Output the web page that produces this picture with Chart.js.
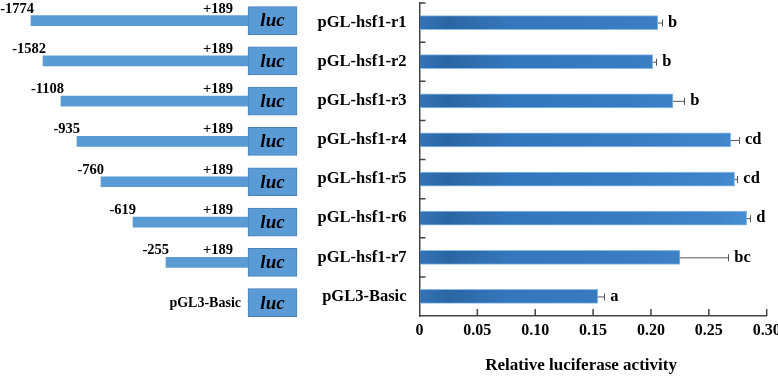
<!DOCTYPE html>
<html>
<head>
<meta charset="utf-8">
<script src="https://cdn.jsdelivr.net/npm/chart.js@4/dist/chart.umd.min.js"></script>
<style>
  html, body { margin: 0; padding: 0; background: #fff; }
  #wrap { position: relative; width: 778px; height: 376px; overflow: hidden; }
  #left { position: absolute; left: 0; top: 0; }
  #right { position: absolute; left: 300px; top: 0; }
</style>
</head>
<body>
<div id="wrap">
  <canvas id="left" width="300" height="376"></canvas>
  <canvas id="right" width="478" height="376"></canvas>
</div>
<script>
// ---------- data ----------
const categories = ['pGL-hsf1-r1','pGL-hsf1-r2','pGL-hsf1-r3','pGL-hsf1-r4','pGL-hsf1-r5','pGL-hsf1-r6','pGL-hsf1-r7','pGL3-Basic'];
const activity   = [0.206, 0.2015, 0.219, 0.269, 0.2723, 0.2827, 0.2251, 0.154];
const activityErr= [0.0036, 0.003, 0.0098, 0.007, 0.0023, 0.003, 0.0417, 0.0057];
const sigLetters = ['b','b','b','cd','cd','d','bc','a'];
const xTicks     = [0, 0.05, 0.10, 0.15, 0.20, 0.25, 0.30];

// promoter constructs (schematic, not drawn to scale)
const promoterStartLabel = ['-1774','-1582','-1108','-935','-760','-619','-255', null];
const promoterEndLabel   = '+189';
const schematicStart     = [-217, -205, -187, -171, -147, -115, -82, null]; // drawn 5' end (schematic units, luc starts at 0)
const lucSpan            = [0, 49];
const reporterName       = 'luc';
const xTitle             = 'Relative luciferase activity';

const SERIF = '"Liberation Serif", "Times New Roman", serif';

// ---------- left schematic ----------
const schemPlugin = {
  id: 'schemText',
  afterDatasetsDraw(chart) {
    const {ctx, scales: {x, y}} = chart;
    ctx.save();
    ctx.fillStyle = '#000';
    categories.forEach((c, i) => {
      const yc = y.getPixelForValue(i);
      const boxL = x.getPixelForValue(lucSpan[0]);
      const boxR = x.getPixelForValue(lucSpan[1]);
      ctx.font = 'italic bold 19px ' + SERIF;
      ctx.textAlign = 'center';
      ctx.textBaseline = 'middle';
      ctx.fillText(reporterName, (boxL + boxR) / 2, yc + 1);
      if (schematicStart[i] !== null) {
        const sx = x.getPixelForValue(schematicStart[i]);
        ctx.font = 'bold 14.5px ' + SERIF;
        ctx.textBaseline = 'alphabetic';
        ctx.textAlign = 'right';
        ctx.fillText(promoterStartLabel[i], sx + 3, yc - 8);
        ctx.fillText(promoterEndLabel, boxL - 15, yc - 8);
      } else {
        ctx.font = 'bold 14px ' + SERIF;
        ctx.textAlign = 'right';
        ctx.textBaseline = 'middle';
        ctx.fillText(c, boxL - 7, yc + 1);
      }
    });
    ctx.restore();
  }
};

new Chart(document.getElementById('left'), {
  type: 'bar',
  data: {
    labels: categories,
    datasets: [
      {
        label: 'luc',
        data: categories.map(() => lucSpan),
        backgroundColor: '#5b9bd5',
        borderColor: '#4a80b8',
        borderWidth: 1,
        borderSkipped: false,
        barThickness: 28,
        grouped: false,
        order: 0
      },
      {
        label: 'promoter',
        data: schematicStart.map(s => s === null ? null : [s, lucSpan[0]]),
        backgroundColor: '#5b9bd5',
        borderWidth: 0,
        barThickness: 10,
        grouped: false,
        order: 1
      }
    ]
  },
  options: {
    indexAxis: 'y',
    responsive: false,
    animation: false,
    devicePixelRatio: 1,
    layout: { padding: { top: 0.4, bottom: 53.2, left: 0, right: 0 } },
    scales: {
      x: { type: 'linear', min: -248, max: 52, display: false },
      y: { type: 'category', display: false }
    },
    plugins: { legend: { display: false }, tooltip: { enabled: false } }
  },
  plugins: [schemPlugin]
});

// ---------- right bar chart ----------
const errPlugin = {
  id: 'errLetters',
  afterDatasetsDraw(chart) {
    const {ctx, scales: {x, y}} = chart;
    const meta = chart.getDatasetMeta(0);
    ctx.save();
    activity.forEach((v, i) => {
      const yc = meta.data[i].y;
      const x0 = x.getPixelForValue(v);
      const x1 = x.getPixelForValue(v + activityErr[i]);
      ctx.strokeStyle = '#555';
      ctx.lineWidth = 1;
      ctx.beginPath();
      ctx.moveTo(x0, yc + 0.5); ctx.lineTo(x1, yc + 0.5);
      ctx.moveTo(Math.round(x1) + 0.5, yc - 3); ctx.lineTo(Math.round(x1) + 0.5, yc + 4);
      ctx.stroke();
      ctx.fillStyle = '#000';
      ctx.font = 'bold 16.5px ' + SERIF;
      ctx.textAlign = 'left';
      ctx.textBaseline = 'middle';
      ctx.fillText(sigLetters[i], x1 + 6, yc);
    });
    ctx.restore();
  },
  afterDraw(chart) {
    const {ctx, scales: {x, y}, chartArea} = chart;
    ctx.save();
    ctx.strokeStyle = '#444';
    ctx.lineWidth = 1.5;
    ctx.beginPath();
    x.ticks.forEach(t => {
      if (t.value > 0) {
        const px = x.getPixelForValue(t.value);
        ctx.moveTo(px, chartArea.bottom); ctx.lineTo(px, chartArea.bottom - 7);
      }
    });
    const step = y.getPixelForValue(1) - y.getPixelForValue(0);
    for (let i = 0; i < categories.length; i++) {
      const py = y.getPixelForValue(i) - step / 2;
      ctx.moveTo(chartArea.left, py); ctx.lineTo(chartArea.left + 6, py);
    }
    ctx.stroke();
    // axis title (slightly left of the plot centre, as in the original)
    ctx.fillStyle = '#000';
    ctx.font = 'bold 17px ' + SERIF;
    ctx.textAlign = 'center';
    ctx.textBaseline = 'middle';
    ctx.fillText(xTitle, (chartArea.left + chartArea.right) / 2 - 12, 366);
    ctx.restore();
  }
};

new Chart(document.getElementById('right'), {
  type: 'bar',
  data: {
    labels: categories,
    datasets: [{
      label: xTitle,
      data: activity,
      backgroundColor: (c) => {
        const area = c.chart.chartArea;
        if (!area) return '#3b7dc2';
        const g = c.chart.ctx.createLinearGradient(area.left, 0, area.right, 0);
        g.addColorStop(0, '#3474b8');
        g.addColorStop(0.08, '#2b66a3');
        g.addColorStop(0.25, '#3476bb');
        g.addColorStop(0.6, '#3a7cc2');
        g.addColorStop(0.85, '#3f84c9');
        g.addColorStop(1, '#4d93d8');
        return g;
      },
      borderColor: '#8dbbe8',
      borderWidth: 1,
      borderSkipped: 'start',
      barThickness: 14
    }]
  },
  options: {
    indexAxis: 'y',
    responsive: false,
    animation: false,
    devicePixelRatio: 1,
    layout: { padding: { top: 3, right: 11.3, bottom: 0, left: 0 } },
    scales: {
      x: {
        type: 'linear',
        min: xTicks[0],
        max: xTicks[xTicks.length - 1],
        afterBuildTicks(s) { s.ticks = xTicks.map(v => ({ value: v })); },
        ticks: {
          callback: (v) => v === 0 ? '0' : Number(v).toFixed(2),
          font: { family: SERIF, size: 16, weight: 'bold' },
          color: '#000',
          padding: 5,
          maxRotation: 0,
          autoSkip: false
        },
        grid: { display: true, drawOnChartArea: false, drawTicks: false },
        border: { display: true, color: '#444', width: 1.5 },
        title: { display: false },
        afterFit(s) { s.height = 60; s.paddingLeft = 0; s.paddingRight = 0; }
      },
      y: {
        type: 'category',
        ticks: {
          font: { family: SERIF, size: 16.5, weight: 'bold' },
          color: '#000',
          padding: 13
        },
        grid: { display: true, drawOnChartArea: false, drawTicks: false },
        border: { display: true, color: '#444', width: 1.5 },
        afterFit(s) { s.width = 119.5; s.paddingTop = 0; s.paddingBottom = 0; }
      }
    },
    plugins: { legend: { display: false }, tooltip: { enabled: false } }
  },
  plugins: [errPlugin]
});
</script>
</body>
</html>
